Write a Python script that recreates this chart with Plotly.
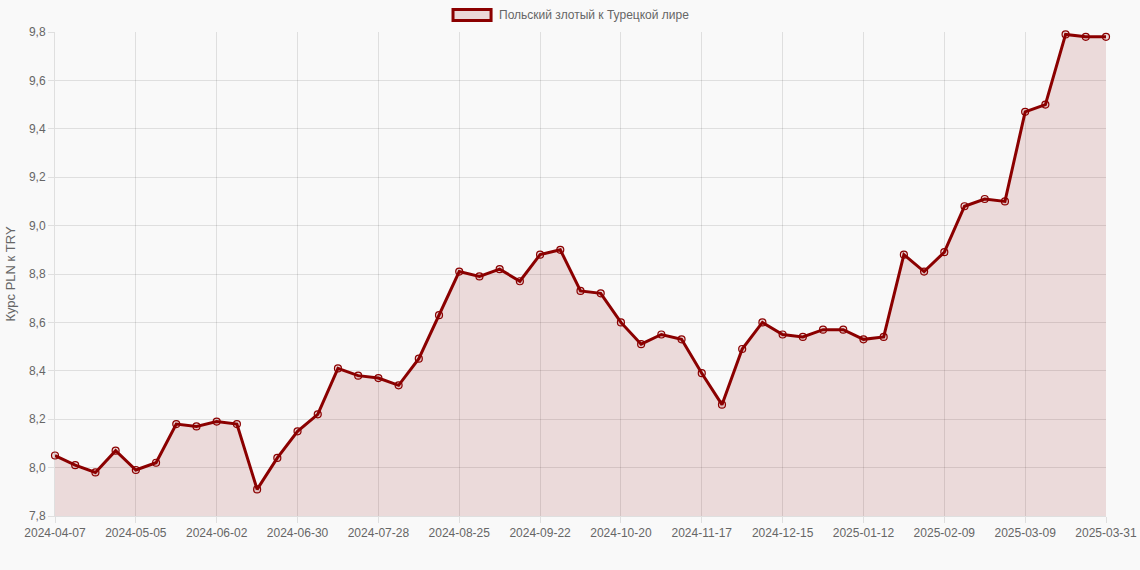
import plotly.graph_objects as go

# weekly dates (category axis, as in the source chart)
dates = [
    "2024-04-07", "2024-04-14", "2024-04-21", "2024-04-28", "2024-05-05",
    "2024-05-12", "2024-05-19", "2024-05-26", "2024-06-02", "2024-06-09",
    "2024-06-16", "2024-06-23", "2024-06-30", "2024-07-07", "2024-07-14",
    "2024-07-21", "2024-07-28", "2024-08-04", "2024-08-11", "2024-08-18",
    "2024-08-25", "2024-09-01", "2024-09-08", "2024-09-15", "2024-09-22",
    "2024-09-29", "2024-10-06", "2024-10-13", "2024-10-20", "2024-10-27",
    "2024-11-03", "2024-11-10", "2024-11-17", "2024-11-24", "2024-12-01",
    "2024-12-08", "2024-12-15", "2024-12-22", "2024-12-29", "2025-01-05",
    "2025-01-12", "2025-01-19", "2025-01-26", "2025-02-02", "2025-02-09",
    "2025-02-16", "2025-02-23", "2025-03-02", "2025-03-09", "2025-03-16",
    "2025-03-23", "2025-03-30", "2025-03-31",
]

# PLN -> TRY rate
rates = [
    8.05, 8.01, 7.98, 8.07, 7.99, 8.02, 8.18, 8.17, 8.19, 8.18,
    7.91, 8.04, 8.15, 8.22, 8.41, 8.38, 8.37, 8.34, 8.45, 8.63,
    8.81, 8.79, 8.82, 8.77, 8.88, 8.90, 8.73, 8.72, 8.60, 8.51,
    8.55, 8.53, 8.39, 8.26, 8.49, 8.60, 8.55, 8.54, 8.57, 8.57,
    8.53, 8.54, 8.88, 8.81, 8.89, 9.08, 9.11, 9.10, 9.47, 9.50,
    9.79, 9.78, 9.78,
]

series_name = "Польский злотый к Турецкой лире"
y_title = "Курс PLN к TRY"

# ticks shown: every 4th week plus the last date
tick_dates = dates[::4] + [dates[-1]]

line_color = "#8B0000"
fill_color = "rgba(139,0,0,0.12)"
grid_color = "rgba(0,0,0,0.1)"
text_color = "#666666"
bg = "#F9F9F9"

fig = go.Figure()

fig.add_trace(go.Scatter(
    x=dates,
    y=rates,
    mode="lines+markers",
    name=series_name,
    line=dict(color=line_color, width=3),
    marker=dict(size=7, color=fill_color, line=dict(color=line_color, width=1.2)),
    fill="tozeroy",
    fillcolor=fill_color,
    cliponaxis=False,
    showlegend=False,
))

# legend box drawn like the chart.js legend
fig.add_shape(type="rect", xref="paper", yref="paper",
              x0=0.3787, x1=0.4149, y0=1.0237, y1=1.0465,
              line=dict(color=line_color, width=3), fillcolor="#EBD8D8")
fig.add_annotation(xref="paper", yref="paper", x=0.421, y=1.035,
                   text=series_name, showarrow=False,
                   xanchor="left", yanchor="middle",
                   font=dict(size=12, color=text_color))

fig.update_layout(
    width=1140,
    height=570,
    margin=dict(l=55, r=34, t=32, b=54),
    paper_bgcolor=bg,
    plot_bgcolor=bg,
    separators=", ",
    font=dict(family="Liberation Sans, Arial, sans-serif", size=12, color=text_color),
    showlegend=False,
    xaxis=dict(
        type="category",
        range=[0, len(dates) - 1],
        tickmode="array",
        tickvals=tick_dates,
        ticktext=tick_dates,
        tickangle=0,
        automargin=False,
        showgrid=True,
        gridcolor=grid_color,
        showline=True,
        linecolor=grid_color,
        ticks="outside",
        ticklen=6,
        tickcolor=grid_color,
        zeroline=False,
        tickfont=dict(size=12, color=text_color),
    ),
    yaxis=dict(
        range=[7.8, 9.8],
        dtick=0.2,
        tickformat=".1f",
        automargin=False,
        showgrid=True,
        gridcolor=grid_color,
        showline=True,
        linecolor=grid_color,
        ticks="outside",
        ticklen=6,
        tickcolor=grid_color,
        zeroline=False,
        tickfont=dict(size=12, color=text_color),
        title=dict(text=y_title, font=dict(size=13, color=text_color), standoff=10),
    ),
)

# drop the default page margin so the figure fills the window
fig.write_html(
    "out.html",
    config={"displayModeBar": False},
    post_script="document.body.style.margin='0';document.body.style.background='%s';" % bg,
)
